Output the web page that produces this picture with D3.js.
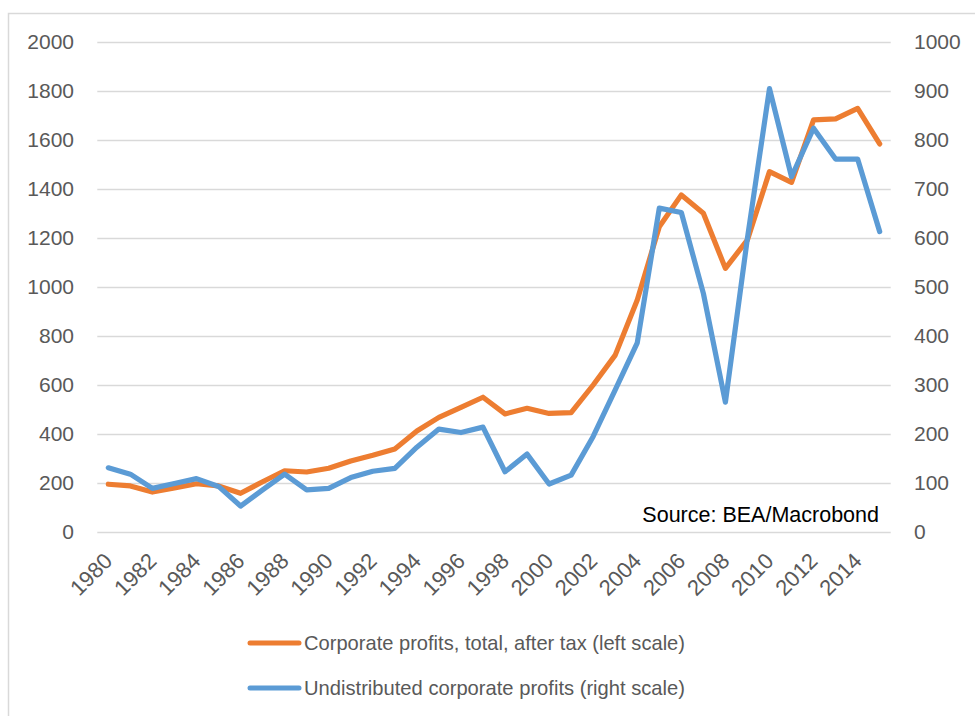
<!DOCTYPE html>
<html>
<head>
<meta charset="utf-8">
<script src="https://cdn.jsdelivr.net/npm/d3@7"></script>
<style>
  body { margin: 0; background: #fff; }
  svg { display: block; }
  text { font-family: "Liberation Sans", Arial, sans-serif; }
</style>
</head>
<body>
<svg width="975" height="716"></svg>
<script>
// data
var years = d3.range(1980, 2016);
var profits = [195, 188, 163, 180, 197, 188, 158, 205, 250, 245, 260, 290, 313,
  339, 412, 468, 509, 550, 482, 505, 484, 487, 600, 722,
  947, 1246, 1376, 1301, 1076, 1192, 1471, 1427, 1682, 1686, 1729, 1584];
var undistributed = [131, 118, 89, 99, 109, 93, 53, 86, 118, 86, 89, 111, 124,
  130, 173, 210, 203, 214, 123, 159, 98, 116, 195, 290,
  386, 661, 652, 487, 265, 600, 905, 725, 824, 761, 761, 613];
var leftTicks = [0, 200, 400, 600, 800, 1000, 1200, 1400, 1600, 1800, 2000];
var rightTicks = [0, 100, 200, 300, 400, 500, 600, 700, 800, 900, 1000];
var labelYears = years.filter(function (y) { return y % 2 === 0; });
var seriesNames = ['Corporate profits, total, after tax (left scale)', 'Undistributed corporate profits (right scale)'];

var svg = d3.select('svg'),
  x0 = 97.3, x1 = 890.7, plotTop = 42, plotBottom = 532,
  orange = '#ED7D31', blue = '#5B9BD5', grey = '#595959', grid = '#d9d9d9';

// outer chart frame (runs off the right and bottom edges)
svg.append('rect')
  .attr('x', 8.5).attr('y', 13.5).attr('width', 1200).attr('height', 1000)
  .attr('fill', 'none').attr('stroke', grid).attr('stroke-width', 1.5);

var x = d3.scalePoint().domain(years).range([x0, x1]).padding(0.5);
var yl = d3.scaleLinear().domain([0, 2000]).range([plotBottom, plotTop]);
var yr = d3.scaleLinear().domain([0, 1000]).range([plotBottom, plotTop]);

// gridlines
var g = svg.append('g').attr('transform', 'translate(' + x0 + ',0)')
  .call(d3.axisLeft(yl).tickValues(leftTicks).tickSize(-(x1 - x0)).tickFormat(''));
g.select('.domain').remove();
g.selectAll('line').attr('stroke', grid).attr('stroke-width', 1.5);

// left axis labels
var la = svg.append('g').attr('transform', 'translate(74,0)')
  .call(d3.axisLeft(yl).tickValues(leftTicks).tickSize(0).tickPadding(0).tickFormat(d3.format('d')));
la.select('.domain').remove();
la.selectAll('text').attr('fill', grey).style('font-size', '21px').style('font-family', '"Liberation Sans", Arial, sans-serif');

// right axis labels
var ra = svg.append('g').attr('transform', 'translate(914,0)')
  .call(d3.axisRight(yr).tickValues(rightTicks).tickSize(0).tickPadding(0).tickFormat(d3.format('d')));
ra.select('.domain').remove();
ra.selectAll('text').attr('fill', grey).style('font-size', '21px').style('font-family', '"Liberation Sans", Arial, sans-serif');

// x labels, rotated
svg.append('g').selectAll('text').data(labelYears).enter().append('text')
  .attr('transform', function (d) { return 'translate(' + (x(d) + 0) + ',557) rotate(-45)'; })
  .attr('text-anchor', 'end')
  .attr('dy', '0.35em')
  .attr('fill', grey).style('font-size', '22px')
  .text(function (d) { return d; });

// lines
var lineL = d3.line().x(function (d, i) { return x(years[i]); }).y(function (d) { return yl(d); });
var lineR = d3.line().x(function (d, i) { return x(years[i]); }).y(function (d) { return yr(d); });

svg.append('path').datum(profits).attr('d', lineL)
  .attr('fill', 'none').attr('stroke', orange).attr('stroke-width', 5.2)
  .attr('stroke-linejoin', 'round').attr('stroke-linecap', 'round');
// blue drawn over orange, like the second series in the original
svg.append('path').datum(undistributed).attr('d', lineR)
  .attr('fill', 'none').attr('stroke', blue).attr('stroke-width', 5.2)
  .attr('stroke-linejoin', 'round').attr('stroke-linecap', 'round');

// source note
svg.append('text').attr('x', 879).attr('y', 522).attr('text-anchor', 'end')
  .attr('fill', '#000').style('font-size', '21.5px').text('Source: BEA/Macrobond');

// legend
var lg = svg.append('g').selectAll('g').data(seriesNames).enter().append('g')
  .attr('transform', function (d, i) { return 'translate(0,' + (643 + i * 45) + ')'; });
lg.append('line').attr('x1', 250).attr('x2', 299)
  .attr('stroke', function (d, i) { return i ? blue : orange; })
  .attr('stroke-width', 5).attr('stroke-linecap', 'round');
lg.append('text').attr('x', 304).attr('dy', '0.35em')
  .attr('fill', grey).style('font-size', '21px')
  .attr('textLength', 381).attr('lengthAdjust', 'spacingAndGlyphs')
  .text(function (d) { return d; });
</script>
</body>
</html>
